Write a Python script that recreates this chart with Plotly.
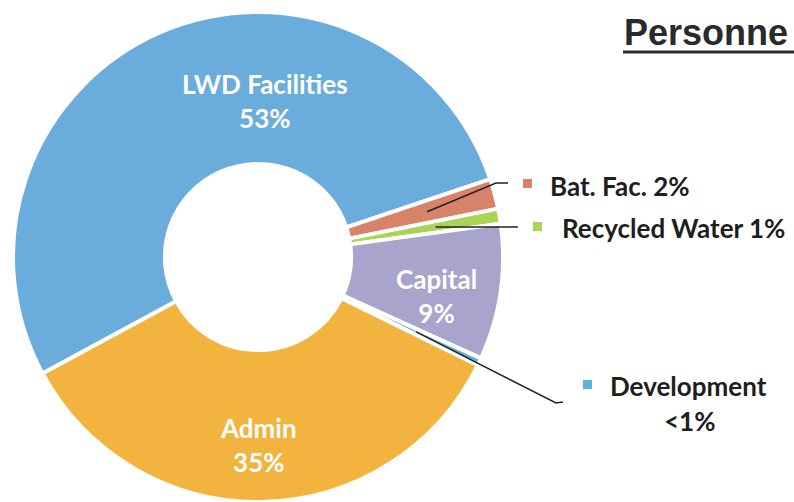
import math
import plotly.graph_objects as go

# ---- data ----
categories = ["LWD Facilities", "Bat. Fac.", "Recycled Water", "Capital", "Development", "Admin"]
values = [53, 2, 1, 9, 0.5, 35]
pct_labels = ["53%", "2%", "1%", "9%", "<1%", "35%"]
colors = ["#6aacdc", "#d9826a", "#a9d456", "#a8a4cc", "#5ab4dc", "#f2b43f"]
title_text = "Personne"

W, H = 794, 502
CX, CY, R = 258, 257, 245
HOLE = 0.38
ROT = 241.6


def px(x):
    return x / W


def py(y):
    return 1 - y / H


fig = go.Figure(go.Pie(
    labels=categories,
    values=values,
    sort=False,
    direction="clockwise",
    rotation=ROT,
    hole=HOLE,
    textinfo="none",
    marker=dict(colors=colors, line=dict(color="white", width=4)),
    domain=dict(x=[px(CX - R), px(CX + R)], y=[py(CY + R), py(CY - R)]),
    showlegend=False,
    hoverinfo="label+percent",
))

# slice mid-angles from data
total = sum(values)
mids = []
acc = 0
for v in values:
    mids.append(math.radians(ROT + 360 * (acc + v / 2) / total))
    acc += v


def slice_point(i, r):
    a = mids[i]
    return CX + r * math.sin(a), CY - r * math.cos(a)


annotations = []
shapes = []

# inside labels (white, bold)
inside = {0: (265, 101), 5: (258, 445), 3: (436, 296)}
for i, (x, y) in inside.items():
    annotations.append(dict(
        x=px(x), y=py(y), xref="paper", yref="paper", showarrow=False,
        text=f"<b>{categories[i]}</b><br><b>{pct_labels[i]}</b>",
        font=dict(family="Lato", size=26, color="white"), align="center",
        xanchor="center", yanchor="middle",
    ))

# outside labels with leader lines and colour squares
label_font = dict(family="Lato", size=26, color="#1e1e1e")

# Bat. Fac.
x0, y0 = slice_point(1, 175)
shapes.append(dict(type="path", xref="paper", yref="paper",
                   path=f"M {px(x0)} {py(y0)} L {px(496)} {py(183)} L {px(508)} {py(183)}",
                   line=dict(color="#222", width=1.5)))
shapes.append(dict(type="rect", xref="paper", yref="paper",
                   x0=px(523), x1=px(532), y0=py(188), y1=py(179),
                   fillcolor=colors[1], line=dict(width=0)))
annotations.append(dict(x=px(548), y=py(186), xref="paper", yref="paper", showarrow=False,
                        text=f"<b>{categories[1]} {pct_labels[1]}</b>", font=label_font,
                        xanchor="left", yanchor="middle"))

# Recycled Water
x0, y0 = slice_point(2, 180)
shapes.append(dict(type="path", xref="paper", yref="paper",
                   path=f"M {px(x0)} {py(y0)} L {px(508)} {py(227)} L {px(518)} {py(227)}",
                   line=dict(color="#222", width=1.5)))
shapes.append(dict(type="rect", xref="paper", yref="paper",
                   x0=px(533), x1=px(542), y0=py(231), y1=py(222),
                   fillcolor=colors[2], line=dict(width=0)))
annotations.append(dict(x=px(560), y=py(228), xref="paper", yref="paper", showarrow=False,
                        text=f"<b>{categories[2]} {pct_labels[2]}</b>", font=label_font,
                        xanchor="left", yanchor="middle"))

# Development
x0, y0 = slice_point(4, 175)
shapes.append(dict(type="path", xref="paper", yref="paper",
                   path=f"M {px(x0)} {py(y0)} L {px(556)} {py(403)} L {px(563)} {py(402)}",
                   line=dict(color="#222", width=1.5)))
shapes.append(dict(type="rect", xref="paper", yref="paper",
                   x0=px(583), x1=px(592), y0=py(389), y1=py(380),
                   fillcolor=colors[4], line=dict(width=0)))
annotations.append(dict(x=px(608), y=py(386), xref="paper", yref="paper", showarrow=False,
                        text=f"<b>{categories[4]}</b>", font=label_font,
                        xanchor="left", yanchor="middle"))
annotations.append(dict(x=px(689), y=py(421), xref="paper", yref="paper", showarrow=False,
                        text=f"<b>{pct_labels[4]}</b>", font=label_font,
                        xanchor="center", yanchor="middle"))

# title (cut at right edge)
annotations.append(dict(x=px(622), y=py(33), xref="paper", yref="paper", showarrow=False,
                        text=f"<b>{title_text}</b>",
                        font=dict(family="Liberation Sans", size=36, color="#2a2a2a"),
                        xanchor="left", yanchor="middle"))
shapes.append(dict(type="line", xref="paper", yref="paper",
                   x0=px(623), x1=px(794), y0=py(52), y1=py(52),
                   line=dict(color="#2a2a2a", width=3)))

fig.update_layout(
    width=W, height=H,
    margin=dict(l=0, r=0, t=0, b=0),
    paper_bgcolor="white", plot_bgcolor="white",
    annotations=annotations, shapes=shapes,
)

fig.write_html("out.html", config={"displayModeBar": False},
               post_script="document.body.style.margin='0';")
